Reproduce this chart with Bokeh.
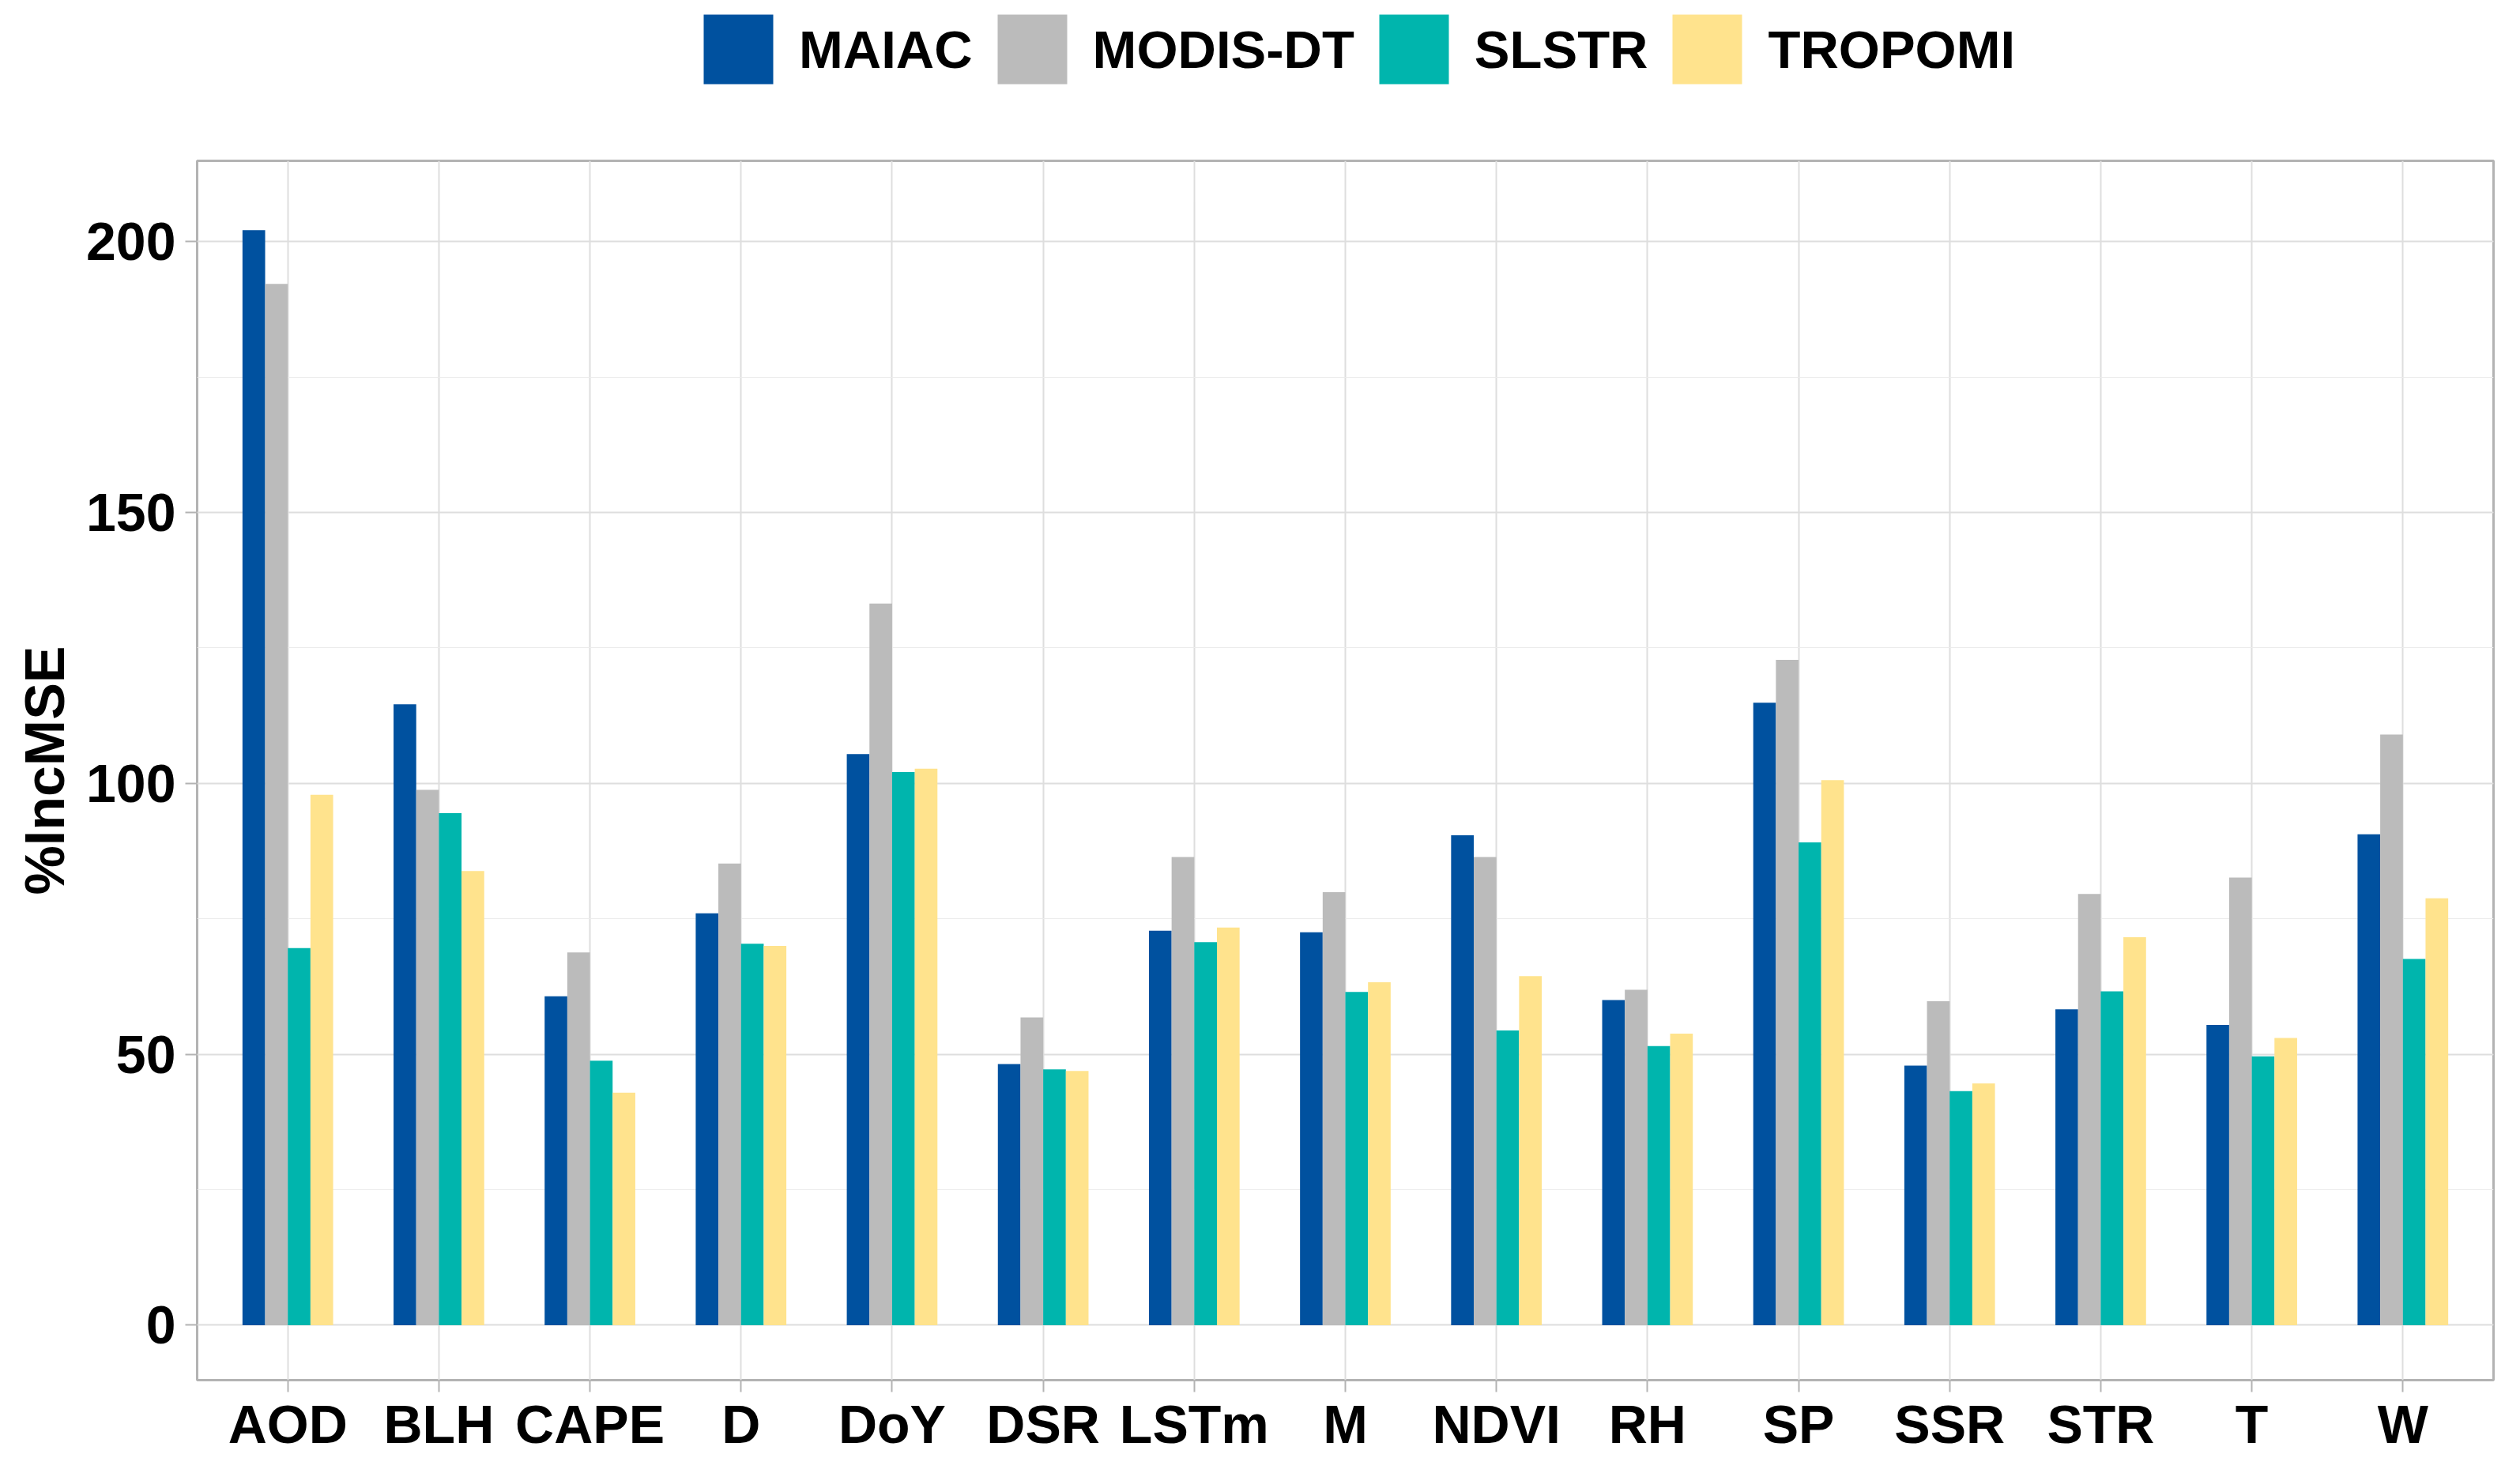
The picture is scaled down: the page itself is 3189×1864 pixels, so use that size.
from bokeh.plotting import figure
from bokeh.layouts import column
from bokeh.models import (ColumnDataSource, FactorRange, Range1d, Legend, LegendItem,
                          SingleIntervalTicker)
from bokeh.transform import dodge
from bokeh.embed import file_html
from bokeh.resources import INLINE

# ---------------- data ----------------
categories = ["AOD", "BLH", "CAPE", "D", "DoY", "DSR", "LSTm", "M", "NDVI",
              "RH", "SP", "SSR", "STR", "T", "W"]
series = ["MAIAC", "MODIS-DT", "SLSTR", "TROPOMI"]
maiac = [202.1, 114.6, 60.7, 76.0, 105.4, 48.2, 72.8, 72.5, 90.4, 60.0, 114.9, 47.9, 58.3, 55.4, 90.6]
modis_dt = [192.2, 98.8, 68.8, 85.2, 133.2, 56.8, 86.4, 79.9, 86.4, 61.9, 122.8, 59.8, 79.6, 82.6, 109.0]
slstr = [69.6, 94.5, 48.8, 70.4, 102.1, 47.2, 70.7, 61.5, 54.4, 51.5, 89.1, 43.2, 61.6, 49.6, 67.6]
tropomi = [97.9, 83.8, 42.9, 70.0, 102.7, 46.9, 73.4, 63.3, 64.4, 53.8, 100.6, 44.6, 71.6, 53.0, 78.8]
y_axis_title = "%IncMSE"

colors = ["#00519F", "#BBBBBB", "#00B5AD", "#FFE38D"]

src = ColumnDataSource(dict(cat=categories, s0=maiac, s1=modis_dt, s2=slstr, s3=tropomi))

FONT = "Liberation Sans"
W = 3172

# ---------------- main chart ----------------
p = figure(width=W, height=1642, output_backend="svg", toolbar_location=None,
           x_range=FactorRange(factors=categories, range_padding=0.1,
                               range_padding_units="absolute"),
           y_range=Range1d(-10.15, 214.9),
           min_border_left=249, min_border_right=17, min_border_top=3,
           min_border_bottom=96)

p.background_fill_color = "white"
p.border_fill_color = "white"
p.outline_line_color = "#B3B3B3"
p.outline_line_width = 3

bar_w = 0.15
offsets = [-0.225, -0.075, 0.075, 0.225]
for i, col in enumerate(colors):
    p.vbar(x=dodge("cat", offsets[i], range=p.x_range), top="s%d" % i, bottom=0,
           width=bar_w, source=src, fill_color=col, line_color=None)

# grid
p.ygrid.grid_line_color = "#DEDEDE"
p.ygrid.grid_line_width = 2
p.ygrid.minor_grid_line_color = "#EBEBEB"
p.ygrid.minor_grid_line_width = 1
p.xgrid.grid_line_color = "#DEDEDE"
p.xgrid.grid_line_width = 2

# axes
p.yaxis.ticker = SingleIntervalTicker(interval=50, num_minor_ticks=2)
for ax in (p.xaxis[0], p.yaxis[0]):
    ax.axis_line_color = None
    ax.major_tick_line_color = "#B3B3B3"
    ax.major_tick_line_width = 2
    ax.major_tick_out = 15
    ax.major_tick_in = 0
    ax.minor_tick_line_color = None
    ax.major_label_text_font = FONT
    ax.major_label_text_font_style = "bold"
    ax.major_label_text_font_size = "68px"
    ax.major_label_text_color = "black"

p.yaxis.major_label_standoff = 12
p.xaxis.major_label_standoff = 2
p.yaxis.axis_label = y_axis_title
p.yaxis.axis_label_text_font = FONT
p.yaxis.axis_label_text_font_style = "bold"
p.yaxis.axis_label_text_font_size = "70px"
p.yaxis.axis_label_text_color = "black"
p.yaxis.axis_label_standoff = 10

# ---------------- legend strip above the chart ----------------
lf = figure(width=W, height=200, output_backend="svg", toolbar_location=None,
            x_axis_type=None, y_axis_type=None,
            x_range=Range1d(0, 1), y_range=Range1d(0, 1),
            min_border_left=0, min_border_right=0, min_border_top=0, min_border_bottom=0)
lf.outline_line_color = None
lf.background_fill_color = "white"
lf.border_fill_color = "white"
lf.grid.visible = False

# zero-height key proxies (only their fill colour is used, by the legend)
key_src = ColumnDataSource(dict(x=[0.5], top=[0.0]))
key_renderers = []
for col in colors:
    key_renderers.append(lf.vbar(x="x", top="top", bottom=0, width=0.1, source=key_src,
                                 fill_color=col, line_color=None))

items = [LegendItem(label=s, renderers=[r]) for s, r in zip(series, key_renderers)]
legend = Legend(items=items, orientation="horizontal", location=(630, 83),
                glyph_width=110, glyph_height=110, label_standoff=22, spacing=20,
                padding=0, margin=0, border_line_color=None, background_fill_alpha=0,
                label_text_font=FONT, label_text_font_style="bold",
                label_text_font_size="67px", label_text_color="black")
lf.add_layout(legend)

layout = column(lf, p, spacing=0)
open("out.html", "w").write(file_html(layout, INLINE))
